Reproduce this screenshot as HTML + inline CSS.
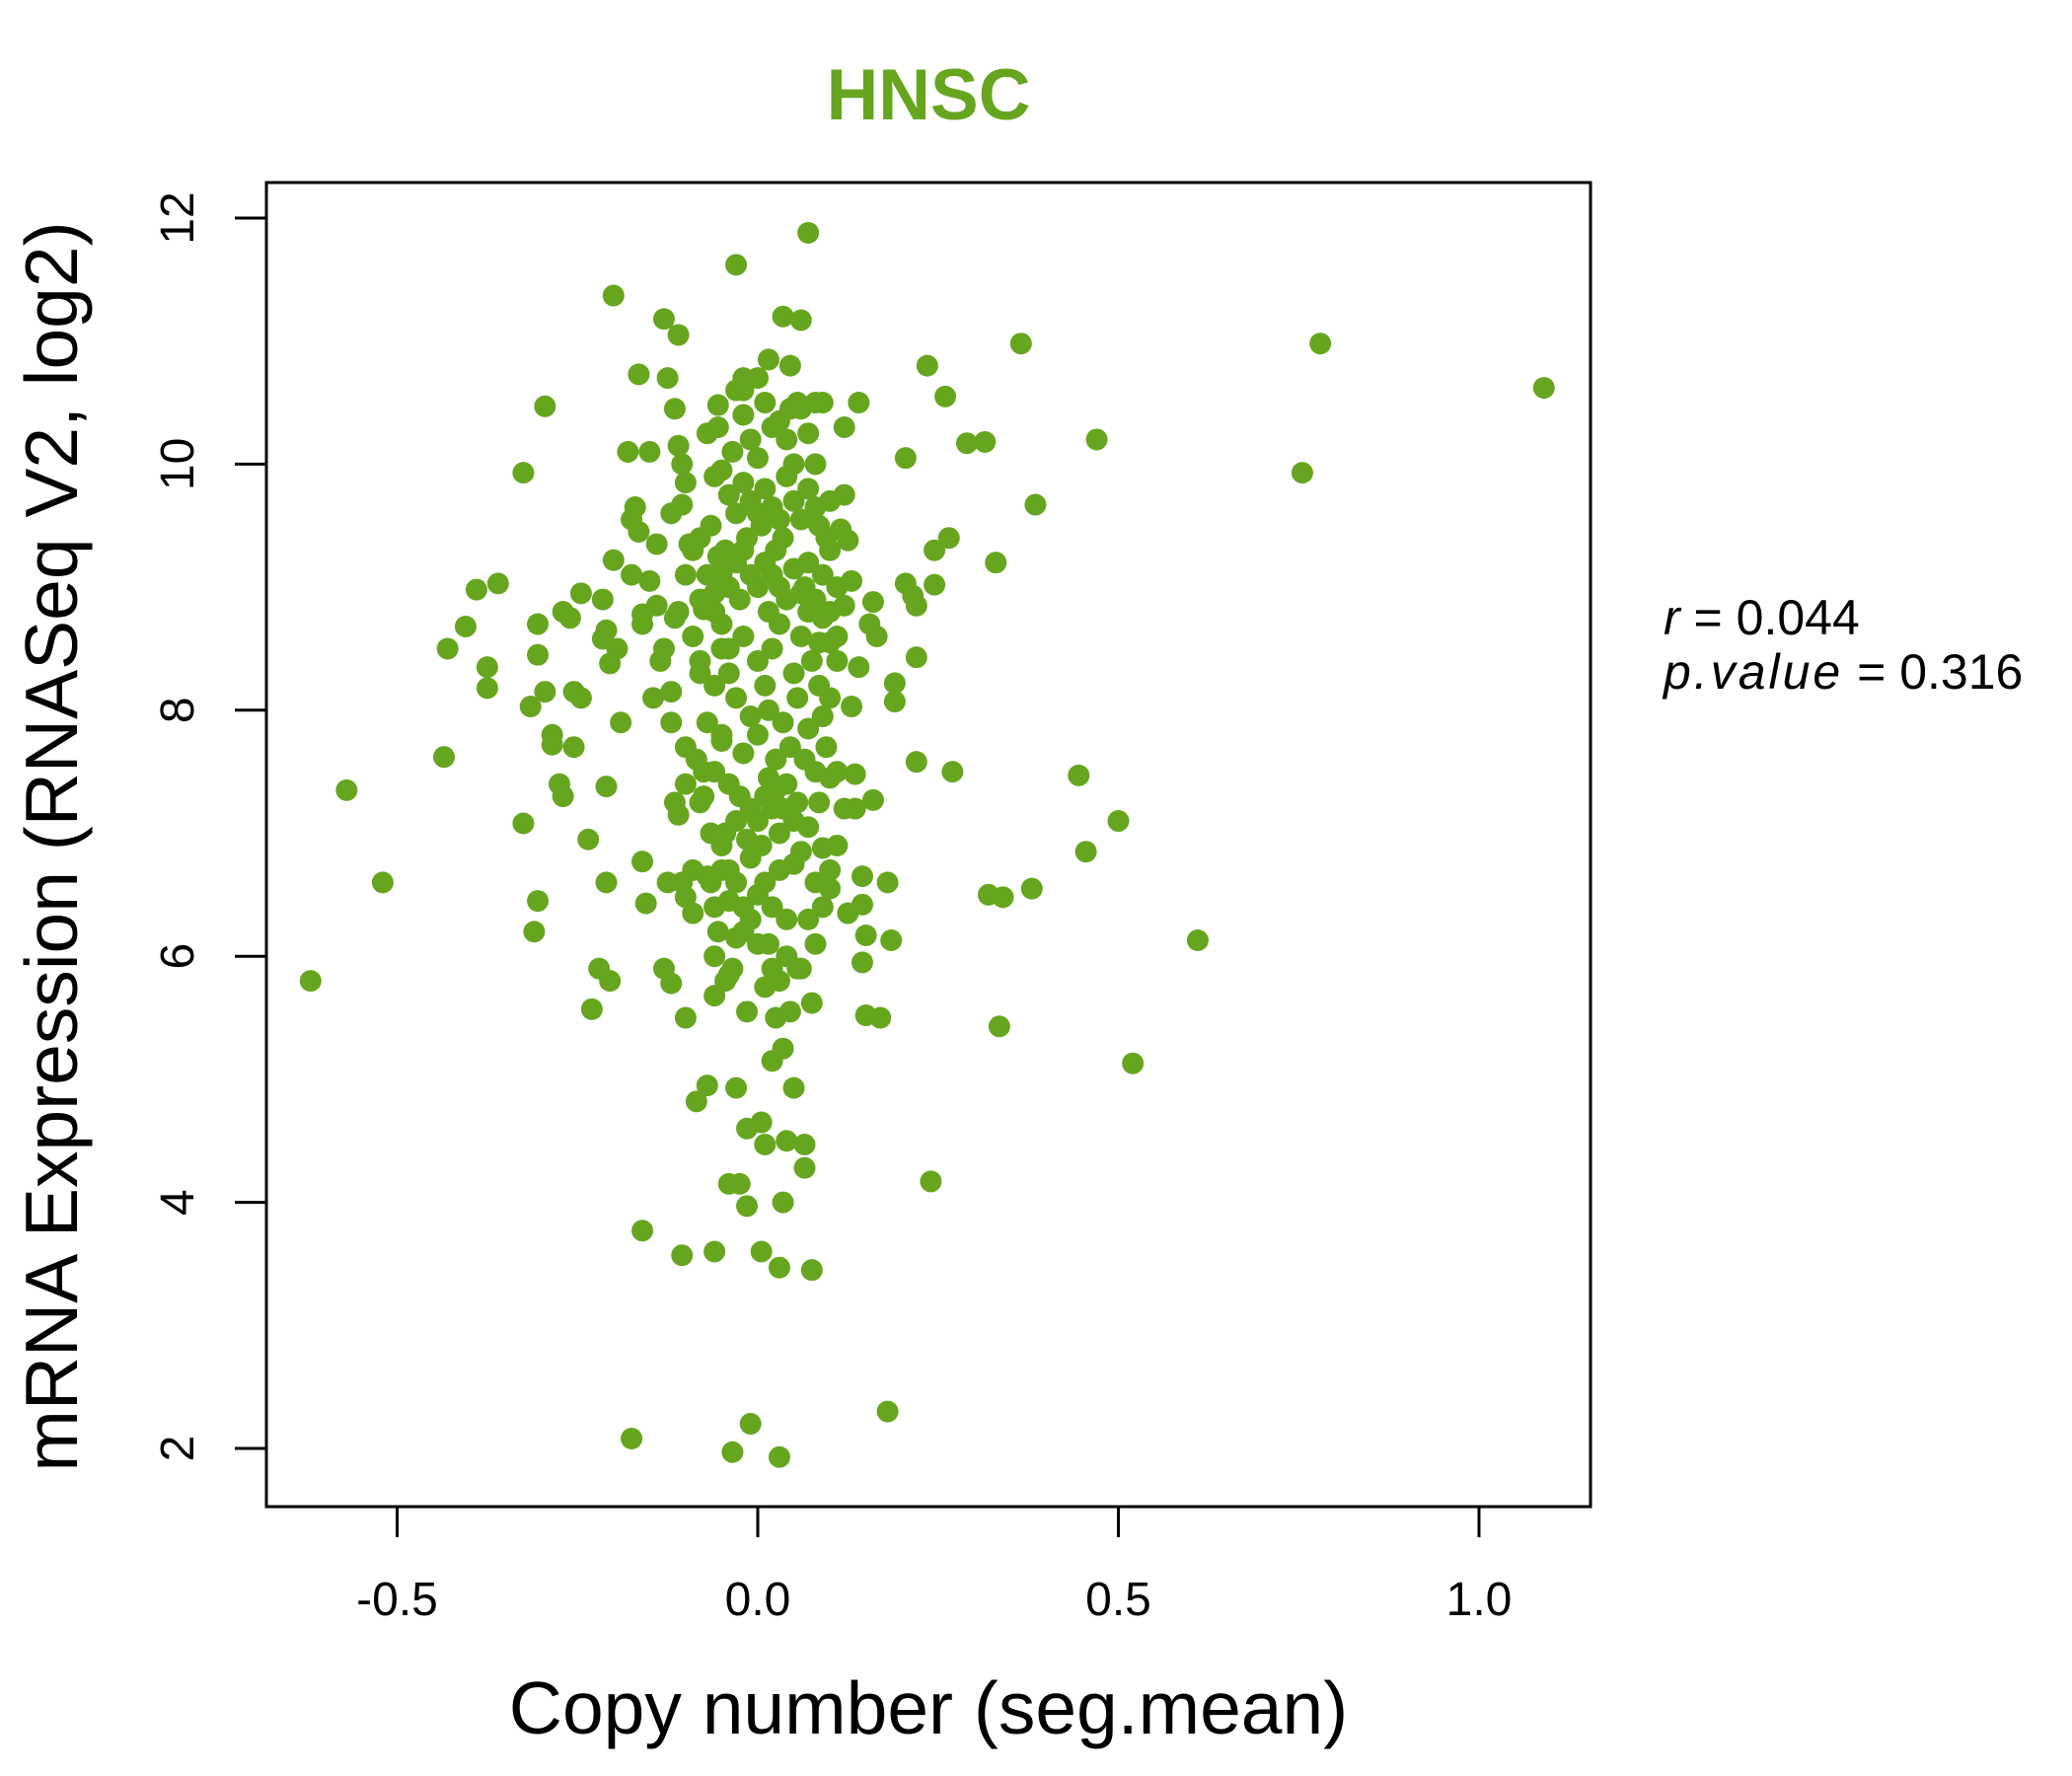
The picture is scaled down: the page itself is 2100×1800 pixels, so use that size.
<!DOCTYPE html>
<html><head><meta charset="utf-8"><style>
html,body{margin:0;padding:0;background:#fff;}
svg{display:block;}
text{font-family:"Liberation Sans",sans-serif;}
</style></head><body>
<svg id="chart" width="2100" height="1800" viewBox="0 0 2100 1800">
<text x="941" y="121" text-anchor="middle" font-size="73" font-weight="bold" fill="#66a61e">HNSC</text>
<rect x="270" y="185" width="1342" height="1342" fill="none" stroke="#000" stroke-width="3"/>
<g id="xaxis"></g>
<g id="yaxis"></g>
<g id="points"></g>
<text x="941" y="1757" text-anchor="middle" font-size="75">Copy number (seg.mean)</text>
<text transform="translate(78,858) rotate(-90)" text-anchor="middle" font-size="75">mRNA Expression (RNASeq V2, log2)</text>
<text x="1686" y="643" font-size="50"><tspan font-style="italic">r</tspan> = 0.044</text>
<text x="1686" y="698" font-size="50"><tspan font-style="italic" letter-spacing="3">p.value</tspan> = 0.316</text>
</svg>
<script>
const xTicks=[-0.5,0.0,0.5,1.0];
const xTickLabels=["-0.5","0.0","0.5","1.0"];
const yTicks=[2,4,6,8,10,12];
const yTickLabels=["2","4","6","8","10","12"];
const xVals=[-0.62,-0.57,-0.52,-0.435,-0.43,-0.405,-0.39,-0.375,-0.375,-0.36,-0.325,-0.325,-0.315,-0.31,-0.305,-0.305,-0.305,-0.295,-0.295,-0.285,-0.285,-0.275,-0.27,-0.27,-0.26,-0.255,-0.255,-0.245,-0.245,-0.235,-0.23,-0.22,-0.215,-0.215,-0.21,-0.21,-0.21,-0.205,-0.205,-0.2,-0.2,-0.195,-0.19,-0.18,-0.175,-0.175,-0.175,-0.17,-0.165,-0.165,-0.16,-0.16,-0.16,-0.16,-0.155,-0.15,-0.15,-0.145,-0.14,-0.14,-0.135,-0.13,-0.13,-0.125,-0.125,-0.12,-0.12,-0.115,-0.115,-0.115,-0.11,-0.11,-0.11,-0.11,-0.105,-0.105,-0.105,-0.105,-0.1,-0.1,-0.1,-0.1,-0.095,-0.09,-0.09,-0.085,-0.085,-0.08,-0.08,-0.08,-0.075,-0.075,-0.07,-0.07,-0.065,-0.065,-0.06,-0.06,-0.06,-0.055,-0.055,-0.055,-0.05,-0.05,-0.05,-0.045,-0.045,-0.04,-0.04,-0.04,-0.035,-0.035,-0.03,-0.03,-0.03,-0.025,-0.02,-0.02,-0.015,-0.015,-0.015,-0.01,-0.01,0.005,0.005,0.01,0.01,0.015,0.015,0.02,0.025,0.03,0.03,0.03,0.035,0.035,0.035,0.04,0.045,0.045,0.05,0.055,0.055,0.06,0.065,0.065,0.07,0.075,0.075,0.08,0.09,0.09,0.1,0.1,0.11,0.115,0.12,0.12,0.125,0.125,0.13,0.13,0.135,0.135,0.14,0.14,0.145,0.145,0.145,0.15,0.15,0.155,0.16,0.16,0.165,0.17,0.18,0.18,0.185,0.19,0.19,0.205,0.205,0.215,0.22,0.22,0.22,0.235,0.24,0.245,0.245,0.26,0.265,0.27,0.29,0.315,0.32,0.33,0.335,0.34,0.365,0.38,0.385,0.445,0.455,0.47,0.5,0.52,0.61,0.755,0.78,1.09,
-0.05,-0.04,-0.03,-0.02,-0.01,0,0.01,0.02,0.03,0.04,-0.06,-0.045,-0.025,-0.015,0.005,0.015,0.025,0.035,0.05,0.06,-0.055,0,0.01,-0.01,0.02,0.03,-0.02,-0.03,-0.04,0.04,0.05,0.06,0.07,0.08,-0.05,-0.035,-0.01,0,0.02,0.04,0.05,0.07,0.08,-0.02,0.01,0.03,-0.03,0,0.045,0.06,
-0.05,-0.04,-0.02,0,0.01,0.02,0.03,0.05,0.06,0.07,0.08,0.09,0.1,0.085,-0.06,-0.03,-0.01,0.015,0.035,0.055,0.07,0.09,0.1,-0.05,-0.02,0,0.025,0.045,0.065,0.08,0.1,-0.04,-0.025,-0.01,0,0.01,0.02,0.03,0.04,0.05,-0.03,-0.015,0.005,0.015,0.025,0.035,0.055,0.07,0.085,-0.045,-0.05,-0.03,-0.01,0.01,0.03,0.05,0.06,-0.02,0,0.02,0.04,0.07,0.08,-0.04,-0.06,-0.07,-0.075,-0.07,-0.08,-0.09,-0.07,-0.065,-0.08,-0.06,-0.06,0.09,0.1,0.11,0.12,0.11,0.095,0.1,0.085,0.07,0.065,0.075,0.085,0.095,0.11,0.12,0.11,0.1,0.09,0.08,0.06,0.04,0.02,0,-0.02,-0.04,-0.06,-0.09,-0.1,-0.12,-0.13,-0.1,-0.12];
const yVals=[5.8,7.35,6.6,7.62,8.5,8.68,8.98,8.35,8.18,9.03,9.93,7.08,8.03,6.2,6.45,8.45,8.7,10.47,8.15,7.8,7.72,7.4,7.3,8.8,8.75,7.7,8.15,8.95,8.1,6.95,5.57,5.9,8.9,8.58,7.38,6.6,8.65,5.8,8.38,11.37,9.22,8.5,7.9,10.1,9.55,9.1,2.08,9.65,10.73,9.45,8.7,8.78,3.77,6.77,6.43,10.1,9.05,8.1,8.85,9.35,8.4,11.18,5.9,6.6,10.7,5.78,8.15,8.75,10.45,7.25,10.15,11.05,7.15,8.8,10.0,9.67,3.57,6.6,7.7,9.85,5.5,6.48,9.35,8.6,6.35,7.6,4.82,8.4,9.4,7.25,7.5,8.82,10.25,4.95,7.0,6.6,5.68,9.9,3.6,6.2,10.48,10.3,8.7,6.9,7.8,5.8,9.2,4.15,6.7,8.5,5.9,1.97,11.62,4.93,6.15,4.15,10.7,10.6,4.6,3.97,5.55,2.2,6.3,4.65,3.6,5.75,4.47,10.85,6.1,5.15,5.5,5.8,3.47,1.93,5.25,4.0,11.2,4.5,10.8,5.55,4.93,10.5,5.9,11.17,4.47,4.28,11.88,3.45,5.62,10.5,10.5,6.88,8.55,6.55,8.4,9.47,10.3,9.75,9.38,6.35,8.03,9.05,7.48,7.2,10.5,8.35,6.42,6.65,5.95,6.17,5.52,8.7,8.88,7.27,8.6,5.5,2.3,6.6,6.13,8.22,8.07,10.05,9.03,8.93,8.85,7.58,8.43,10.8,4.17,9.02,9.3,10.55,9.4,7.5,10.17,10.18,6.5,9.2,5.43,6.48,10.98,6.55,9.67,7.47,6.85,10.2,7.1,5.13,6.13,9.93,10.98,10.62,
9.1,9.0,9.2,9.3,9.1,9.0,9.2,9.1,9.0,8.9,8.95,9.3,8.9,9.4,9.5,8.8,9.3,9.4,9.15,8.95,9.25,9.6,9.8,9.7,9.65,9.55,9.85,9.6,9.75,9.9,9.7,9.55,9.8,9.65,9.95,10.1,10.2,10.05,10.3,10.2,10.0,10.25,10.0,10.4,10.5,10.35,10.6,10.7,10.45,10.45,
8.5,8.3,8.6,8.4,8.2,8.5,8.7,8.3,8.6,8.8,8.9,8.75,8.8,8.55,8.8,8.1,7.95,8.0,7.9,8.1,7.85,7.95,8.1,7.75,7.65,7.8,7.6,7.7,7.6,7.5,7.45,7.4,7.3,7.2,7.1,7.3,7.2,7.0,7.4,7.1,7.1,6.95,6.9,7.45,7.35,7.2,7.25,7.05,7.25,7.0,6.7,6.6,6.8,6.6,6.7,6.75,6.85,6.4,6.5,6.4,6.3,6.3,6.6,6.45,6.4,6.65,7.3,7.9,8.3,9.3,9.1,9.5,8.9,7.5,8.2,9.1,9.3,9.0,8.85,8.6,9.4,9.7,9.5,9.2,9.0,8.4,8.2,7.7,7.5,7.2,6.9,6.7,6.4,6.1,5.9,6.0,5.9,6.1,6.2,5.85,6.0,6.7,7.4,7.9,8.5,9.1,9.6];

const NS='http://www.w3.org/2000/svg';
function xScale(v){return 768+731*v;}
function yScale(v){return 1468-(v-2)*124.7;}
const xa=document.getElementById('xaxis'), ya=document.getElementById('yaxis'), pg=document.getElementById('points');
xTicks.forEach((t,i)=>{
  const l=document.createElementNS(NS,'line');
  l.setAttribute('x1',xScale(t));l.setAttribute('x2',xScale(t));l.setAttribute('y1',1527);l.setAttribute('y2',1558);
  l.setAttribute('stroke','#000');l.setAttribute('stroke-width','3');
  
  
  xa.appendChild(l);
  const tx=document.createElementNS(NS,'text');
  tx.setAttribute('x',xScale(t));tx.setAttribute('y',1637);tx.setAttribute('text-anchor','middle');tx.setAttribute('font-size','48');
  tx.textContent=xTickLabels[i];
  
  
  xa.appendChild(tx);
});
yTicks.forEach((t,i)=>{
  const l=document.createElementNS(NS,'line');
  l.setAttribute('x1',238);l.setAttribute('x2',270);l.setAttribute('y1',yScale(t));l.setAttribute('y2',yScale(t));
  l.setAttribute('stroke','#000');l.setAttribute('stroke-width','3');
  
  
  ya.appendChild(l);
  const tx=document.createElementNS(NS,'text');
  tx.setAttribute('transform','translate(196,'+yScale(t)+') rotate(-90)');tx.setAttribute('text-anchor','middle');tx.setAttribute('font-size','48');
  tx.textContent=yTickLabels[i];
  
  
  ya.appendChild(tx);
});
for(let i=0;i<xVals.length;i++){
  const c=document.createElementNS(NS,'circle');
  c.setAttribute('cx',xScale(xVals[i]));c.setAttribute('cy',yScale(yVals[i]));c.setAttribute('r',11);c.setAttribute('fill','#66a61e');
  
  
  pg.appendChild(c);
}
</script>
</body></html>
